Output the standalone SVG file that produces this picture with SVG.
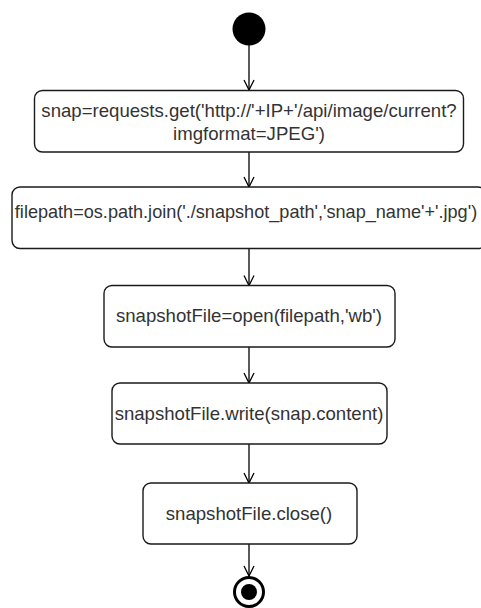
<svg xmlns="http://www.w3.org/2000/svg" width="481" height="608" viewBox="0 0 481 608">
<defs>
<marker id="open" markerWidth="12" markerHeight="12" viewBox="-11 -6 12 12" refX="0" refY="0" orient="auto" markerUnits="userSpaceOnUse">
<path d="M -10,-5 L 0,0 L -10,5" fill="none" stroke="#000" stroke-width="1.3"/>
</marker>
</defs>
<style>
.box{fill:#fff;stroke:#1a1a1a;stroke-width:1.4}
.t{font-family:"Liberation Sans",Arial,sans-serif;font-size:18.6px;fill:#333;text-anchor:middle}
.edge{stroke:#000;stroke-width:1.3;fill:none}
</style>
<rect width="481" height="608" fill="#fff"/>
<g id="connectors">
<line class="edge" x1="249" y1="45" x2="249" y2="90" marker-end="url(#open)"/>
<line class="edge" x1="249" y1="152" x2="249" y2="187" marker-end="url(#open)"/>
<line class="edge" x1="249" y1="248.5" x2="249" y2="285.5" marker-end="url(#open)"/>
<line class="edge" x1="249" y1="347" x2="249" y2="383" marker-end="url(#open)"/>
<line class="edge" x1="249" y1="444" x2="249" y2="483" marker-end="url(#open)"/>
<line class="edge" x1="249" y1="544" x2="249" y2="576" marker-end="url(#open)"/>
</g>
<g id="start">
<circle cx="249" cy="29" r="16.5" fill="#000"/>
</g>
<g id="node1">
<rect class="box" x="34.5" y="90.5" width="429" height="61.5" rx="8"/>
<text class="t" x="249" y="117">snap=requests.get('http://'+IP+'/api/image/current?</text>
<text class="t" x="249" y="140">imgformat=JPEG')</text>
</g>
<g id="node2">
<rect class="box" x="12" y="187" width="474" height="61.5" rx="8"/>
<text class="t" x="246" y="218" style="font-size:18.1px">filepath=os.path.join('./snapshot_path','snap_name'+'.jpg')</text>
</g>
<g id="node3">
<rect class="box" x="104" y="285.5" width="291" height="61.5" rx="8"/>
<text class="t" x="249" y="322">snapshotFile=open(filepath,'wb')</text>
</g>
<g id="node4">
<rect class="box" x="112" y="383" width="275" height="61" rx="8"/>
<text class="t" x="249" y="420">snapshotFile.write(snap.content)</text>
</g>
<g id="node5">
<rect class="box" x="143" y="483" width="214" height="61" rx="8"/>
<text class="t" x="249" y="520">snapshotFile.close()</text>
</g>
<g id="end">
<circle cx="249" cy="592" r="14.5" fill="#fff" stroke="#000" stroke-width="3"/>
<circle cx="249" cy="592" r="8" fill="#000"/>
</g>
</svg>
